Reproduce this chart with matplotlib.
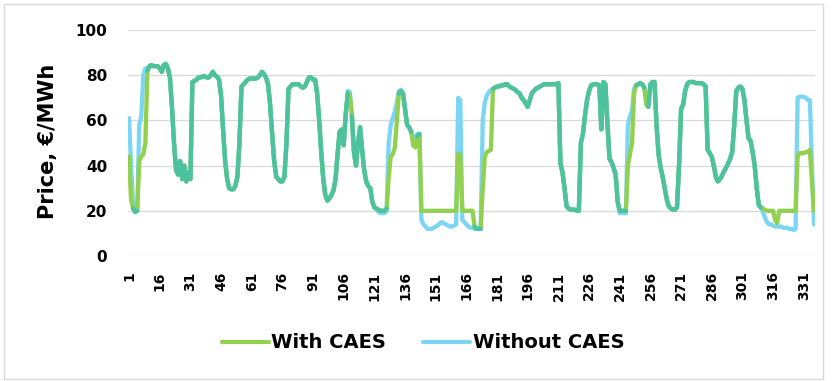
import numpy as np
import matplotlib
matplotlib.use("Agg")
from matplotlib import pyplot as plt
from matplotlib.patches import Rectangle

# hourly prices, 14 days x 24 h
with_caes = [
    44, 25, 21, 19.5, 20, 42, 44, 45, 50, 82, 84, 84.5, 84, 84, 84, 83, 81.5, 84.5, 85, 83, 79, 66, 50, 38,
    36, 42, 34, 40, 33, 37, 34, 77, 77.5, 78, 79, 79, 79.5, 79.5, 79, 79, 80, 81.5, 80, 79.5, 78, 71, 56, 42,
    34, 30, 29.5, 29.5, 31, 35, 50, 75, 76, 77, 78, 78.5, 78.5, 78.5, 78.5, 79, 80, 81.5, 80.5, 79, 76, 67, 54, 42,
    35, 34, 33, 33, 35, 50, 74, 75, 76, 76, 76, 76, 75, 74.5, 75, 77, 79, 79, 78, 78, 72, 60, 46, 34,
    27, 24.5, 25.5, 27, 29, 34, 45, 55, 56, 49, 63, 72, 71, 62, 46, 40, 50, 57, 47, 38, 33, 31, 30, 24,
    21.5, 21, 20.5, 20, 20, 20, 21, 35, 44, 45, 48, 60, 72, 73, 72, 65, 58, 57, 55, 49, 48, 53, 54, 20,
    20, 20, 20, 20, 20, 20, 20, 20, 20, 20, 20, 20, 20, 20, 20, 20, 20, 45, 45, 20, 20, 20, 20, 20,
    20, 13, 12, 12, 12, 30, 44, 46, 46.5, 47, 74, 74.5, 75, 75, 75.5, 75.5, 76, 76, 75, 74.5, 74, 73.5, 72.5, 72,
    70, 69, 67.5, 66, 69, 72, 73, 74, 74.5, 75, 75.5, 76, 76, 76, 76, 76, 76, 76, 76.5, 41, 37, 30, 22, 21,
    20.5, 20.5, 20.5, 20, 20, 50, 54, 62, 69, 73, 75.5, 76, 76, 76, 75.5, 56, 77, 76, 58, 43, 41.5, 39, 36, 24,
    20, 20, 20, 20, 40, 45, 50, 72, 75.5, 76, 76.5, 76, 74.5, 67, 66, 76, 77, 77, 58, 45, 39, 35, 30, 25,
    22, 21, 20.5, 20.5, 21.5, 40, 65, 67, 73, 76, 77, 77, 77, 76.5, 76.5, 76.5, 76.5, 76, 75, 47, 45.5, 44, 40, 35,
    33, 34, 35.5, 37.5, 39, 41, 43, 46, 58, 73, 74.5, 75, 74, 69, 60, 52, 51, 46, 40, 30, 22.5, 21.5, 21, 20.5,
    20, 20, 20, 20, 16, 14.5, 20, 20, 20, 20, 20, 20, 20, 20, 20, 44, 45.5, 45.5, 45.5, 46, 46, 47, 33, 20,
]
without_caes = [
    61, 40, 22, 19.5, 20, 58, 62, 80, 83, 83, 84, 84.5, 84, 84, 84, 83, 81.5, 84.5, 85, 83, 79, 66, 50, 38,
    36, 42, 34, 40, 33, 37, 34, 77, 77.5, 78, 79, 79, 79.5, 79.5, 79, 79, 80, 81.5, 80, 79.5, 78, 71, 56, 42,
    34, 30, 29.5, 29.5, 31, 35, 50, 75, 76, 77, 78, 78.5, 78.5, 78.5, 78.5, 79, 80, 81.5, 80.5, 79, 76, 67, 54, 42,
    35, 34, 33, 33, 35, 50, 74, 75, 76, 76, 76, 76, 75, 74.5, 75, 77, 79, 79, 78, 78, 72, 60, 46, 34,
    27, 24.5, 25.5, 27, 29, 34, 45, 55, 56, 49, 63, 73, 72.5, 62, 46, 40, 50, 57, 47, 38, 33, 31, 30, 24,
    21.5, 20.5, 19.5, 19, 19, 19, 20, 50, 58, 61, 64, 68, 73, 73.5, 72, 65, 58, 57, 55, 52, 52, 54, 54, 16,
    14, 13, 12, 12, 12, 12.5, 13, 13.5, 14.5, 15, 14.5, 14, 13.5, 13, 13, 13.5, 14, 70, 69, 16, 15, 14, 13, 12.5,
    12.5, 12, 12, 12, 13, 60, 68, 71, 72.5, 73.5, 74, 74.5, 75, 75, 75.5, 75.5, 76, 76, 75, 74.5, 74, 73.5, 72.5, 72,
    70, 69, 67.5, 66, 69, 72, 73, 74, 74.5, 75, 75.5, 76, 76, 76, 76, 76, 76, 76, 76.5, 41, 37, 30, 22, 21,
    20.5, 20.5, 20.5, 20, 20, 50, 54, 62, 69, 73, 75.5, 76, 76, 76, 75.5, 56, 77, 76, 58, 43, 41.5, 39, 36, 24,
    19, 19, 19, 19, 58, 62, 64, 74, 75.5, 76, 76.5, 76, 74.5, 70, 67, 76, 77, 77, 58, 45, 39, 35, 30, 25,
    22, 21, 20.5, 20.5, 21.5, 40, 65, 67, 73, 76, 77, 77, 77, 76.5, 76.5, 76.5, 76.5, 76, 75, 47, 45.5, 44, 40, 35,
    33, 34, 35.5, 37.5, 39, 41, 43, 46, 58, 73, 74.5, 75, 74, 69, 60, 52, 51, 46, 40, 30, 22.5, 21.5, 19.5, 17,
    15, 14, 14, 13.5, 13, 13, 13, 13, 12.5, 12.5, 12.5, 12, 12, 11.5, 12, 70, 70.5, 70.5, 70.5, 70, 69, 69, 40, 14,
]
hours = np.arange(1, len(with_caes) + 1)
tick_hours = np.arange(1, 332, 15)

green = '#92D050'
blue = '#7DD5F5'
teal = '#4CC29E'

w = np.array(with_caes, dtype=float)
wo = np.array(without_caes, dtype=float)
# where both series sit on top of each other the chart shows a teal line
overlap = np.where(np.isclose(w, wo, atol=1.0), w, np.nan)

fig = plt.figure(figsize=(8.33, 3.81), dpi=100)
ax = fig.add_axes([128 / 833, 1 - 256 / 381, (815 - 128) / 833, (256 - 30) / 381])

lw = 3.1
ax.plot(hours, wo, color=blue, lw=lw, solid_joinstyle='round', solid_capstyle='round', zorder=2)
ax.plot(hours, w, color=green, lw=lw, solid_joinstyle='round', solid_capstyle='round', zorder=3)
ax.plot(hours, overlap, color=teal, lw=lw, solid_joinstyle='round', solid_capstyle='round', zorder=4)

ax.set_xlim(0.5, len(hours) + 0.5)
ax.set_ylim(0, 100)
ax.set_yticks(range(0, 101, 20))
ax.set_xticks(tick_hours)
ax.set_xticklabels([str(t) for t in tick_hours], rotation=90, fontsize=10,
                   fontweight='bold', family='DejaVu Sans')
for lab in ax.get_yticklabels():
    lab.set_fontsize(11)
    lab.set_fontweight('bold')
ax.tick_params(axis='y', length=0, pad=15)
ax.tick_params(axis='x', length=0, pad=11)
ax.grid(axis='y', color='#D9D9D9', lw=0.9)
ax.set_axisbelow(True)
for s in ax.spines.values():
    s.set_visible(False)

fig.text(48 / 833, 1 - 141 / 381, 'Price, €/MWh', rotation=90, ha='center', va='center',
         fontsize=15, fontweight='bold')

h1, = ax.plot([], [], color=green, lw=3, solid_capstyle='round')
h2, = ax.plot([], [], color=blue, lw=3, solid_capstyle='round')
fig.legend([h1, h2], ['With CAES', 'Without CAES'], loc='center', ncol=2,
           bbox_to_anchor=(0.508, 1 - 343 / 381), frameon=False,
           prop={'size': 14, 'weight': 'bold'}, handlelength=2.4,
           handletextpad=0.15, columnspacing=1.9)

fig.patches.append(Rectangle((4 / 833, 2 / 381), 819 / 833, 375 / 381,
                             transform=fig.transFigure, fill=False,
                             edgecolor='#D9D9D9', lw=1))

fig.savefig('out.png', dpi=100)
